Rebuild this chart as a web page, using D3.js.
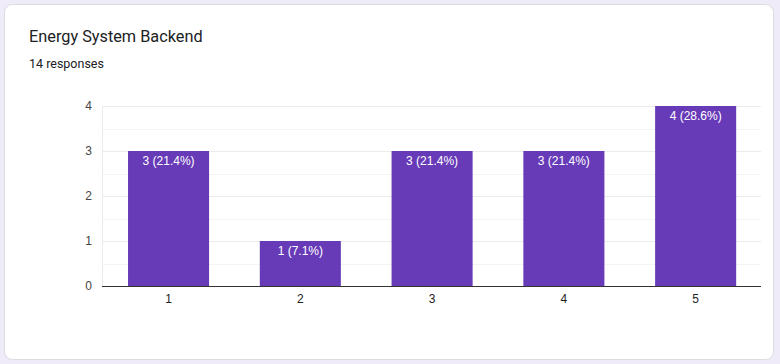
<!DOCTYPE html>
<html><head><meta charset="utf-8">
<script src="https://cdn.jsdelivr.net/npm/d3@7"></script>
<style>
html,body{margin:0;padding:0;background:#f0ebf8;}
svg{display:block;}
</style></head>
<body>
<svg id="c" width="780" height="364"></svg>
<script>
const categories = ["1","2","3","4","5"];
const counts = [3,1,3,3,4];
const labels = ["3 (21.4%)","1 (7.1%)","3 (21.4%)","3 (21.4%)","4 (28.6%)"];
const yTicks = [0,1,2,3,4];
const title = "Energy System Backend";
const subtitle = "14 responses";

const svg = d3.select("#c");
svg.append("rect").attr("x",4.5).attr("y",4.5).attr("width",769).attr("height",355)
  .attr("rx",8).attr("fill","#fff").attr("stroke","#dadce0");

svg.append("text").attr("x",29).attr("y",42).text(title)
  .attr("font-family","Roboto, 'Open Sans', sans-serif").attr("font-size",16.3).attr("fill","#202124");
svg.append("text").attr("x",29).attr("y",68).text(subtitle)
  .attr("font-family","Roboto, sans-serif").attr("font-size",12.5).attr("fill","#202124");

const L=102, R=761, T=106, B=286;
const x = d3.scaleBand().domain(categories).range([L+0.6,R+0.6]).paddingInner(0.385).paddingOuter(0.193);
const y = d3.scaleLinear().domain([0,4]).range([B,T]);

const g = svg.append("g");
g.selectAll("line.minor").data(d3.range(0.5,4,1)).join("line")
  .attr("x1",L).attr("x2",R).attr("y1",d=>Math.round(y(d))+0.5).attr("y2",d=>Math.round(y(d))+0.5)
  .attr("stroke","#f3f3f3");
g.selectAll("line.major").data(yTicks.filter(d=>d>0)).join("line")
  .attr("x1",L).attr("x2",R).attr("y1",d=>Math.round(y(d))+0.5).attr("y2",d=>Math.round(y(d))+0.5)
  .attr("stroke","#ebebeb");
g.append("line").attr("x1",L+0.5).attr("x2",L+0.5).attr("y1",T).attr("y2",B).attr("stroke","#ebebeb");

g.selectAll("rect.bar").data(counts).join("rect")
  .attr("x",(d,i)=>x(categories[i])).attr("width",x.bandwidth())
  .attr("y",d=>y(d)).attr("height",d=>B-y(d)).attr("fill","#673ab7");

g.selectAll("text.lbl").data(labels).join("text")
  .attr("x",(d,i)=>x(categories[i])+x.bandwidth()/2).attr("y",(d,i)=>y(counts[i])+14)
  .attr("text-anchor","middle").attr("fill","#fff")
  .attr("font-family","'Liberation Sans', Arial, sans-serif").attr("font-size",12).text(d=>d);

const yAxis = d3.axisLeft(y).tickValues(yTicks).tickSize(0).tickPadding(10).tickFormat(d3.format("d"));
const ya = svg.append("g").attr("transform",`translate(${L},0)`).call(yAxis);
ya.select(".domain").remove();
ya.selectAll("text").attr("font-family","'Liberation Sans', Arial, sans-serif").attr("font-size",12).attr("fill","#444");

const xAxis = d3.axisBottom(x).tickSize(0).tickPadding(8);
const xa = svg.append("g").attr("transform",`translate(0,${B})`).call(xAxis);
xa.select(".domain").attr("stroke","#333").attr("d",`M${L},0.5H${R}`);
xa.selectAll("text").attr("font-family","'Liberation Sans', Arial, sans-serif").attr("font-size",12).attr("fill","#222");
</script>
</body></html>
